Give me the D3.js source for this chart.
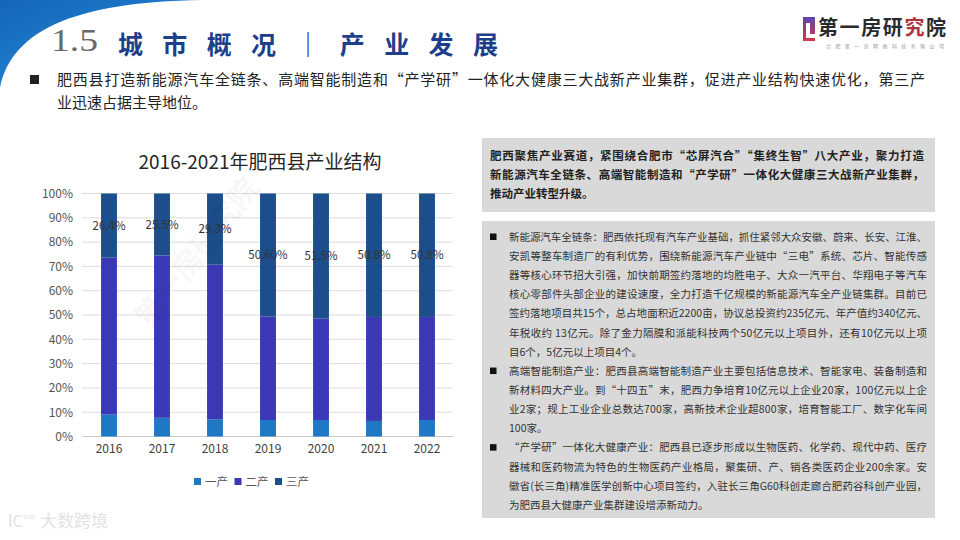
<!DOCTYPE html>
<html>
<head>
<meta charset="utf-8">
<script src="https://cdn.jsdelivr.net/npm/d3@7"></script>
<style>
  body { margin: 0; background: #fff; }
  svg { display: block; font-family: "Noto Sans CJK SC", "Noto Sans", sans-serif; }
</style>
</head>
<body>
<div id="slide"></div>
<script>
// 数据
var years = ["2016", "2017", "2018", "2019", "2020", "2021", "2022"];
var primary = [9.0, 7.7, 7.1, 6.8, 6.8, 6.4, 6.8];
var secondary = [64.6, 66.8, 63.6, 42.6, 41.7, 42.8, 42.4];
var tertiary = [26.4, 25.5, 29.3, 50.6, 51.5, 50.8, 50.8];
var tertiaryLabels = ["26.4%", "25.5%", "29.3%", "50.60%", "51.5%", "50.8%", "50.8%"];
var seriesNames = ["一产", "二产", "三产"];
var seriesColors = ["#1f78c3", "#3b38b6", "#1c4e8b"];
var yTickValues = [0, 10, 20, 30, 40, 50, 60, 70, 80, 90, 100];

var chartTitle = "2016-2021年肥西县产业结构";
var headLine = ["肥西县打造新能源汽车全链条、高端智能制造和“产学研”一体化大健康三大战新产业集群，促进产业结构快速优化，第三产",
                "业迅速占据主导地位。"];
var boxTop = ["肥西聚焦产业赛道，紧围绕合肥市“芯屏汽合”“集终生智”八大产业，聚力打造",
              "新能源汽车全链条、高端智能制造和“产学研”一体化大健康三大战新产业集群，",
              "推动产业转型升级。"];
// [文字, 是否项目符号, 是否整行]
var boxLines = [
  ["新能源汽车全链条：肥西依托现有汽车产业基础，抓住紧邻大众安徽、蔚来、长安、江淮、", 1, 1],
  ["安凯等整车制造厂的有利优势，围绕新能源汽车产业链中“三电”系统、芯片、智能传感", 0, 1],
  ["器等核心环节招大引强，加快前期签约落地的均胜电子、大众一汽平台、华翔电子等汽车", 0, 1],
  ["核心零部件头部企业的建设速度，全力打造千亿规模的新能源汽车全产业链集群。目前已", 0, 1],
  ["签约落地项目共15个，总占地面积近2200亩，协议总投资约235亿元、年产值约340亿元、", 0, 1],
  ["年税收约 13亿元。除了金力隔膜和派能科技两个50亿元以上项目外，还有10亿元以上项", 0, 1],
  ["目6个，5亿元以上项目4个。", 0, 0],
  ["高端智能制造产业：肥西县高端智能制造产业主要包括信息技术、智能家电、装备制造和", 1, 1],
  ["新材料四大产业。到“十四五”末，肥西力争培育10亿元以上企业20家，100亿元以上企", 0, 1],
  ["业2家；规上工业企业总数达700家，高新技术企业超800家，培育智能工厂、数字化车间", 0, 1],
  ["100家。", 0, 0],
  ["“产学研”一体化大健康产业：肥西县已逐步形成以生物医药、化学药、现代中药、医疗", 1, 1],
  ["器械和医药物流为特色的生物医药产业格局，聚集研、产、销各类医药企业200余家。安", 0, 1],
  ["徽省(长三角)精准医学创新中心项目签约，入驻长三角G60科创走廊合肥药谷科创产业园，", 0, 1],
  ["为肥西县大健康产业集群建设增添新动力。", 0, 0]
];

var W = 960, H = 540;
var svg = d3.select("#slide").append("svg")
    .attr("width", W)
    .attr("height", H);

var defs = svg.append("defs");
var grad = defs.append("linearGradient")
    .attr("id", "cornerGrad")
    .attr("x1", "0").attr("y1", "0").attr("x2", "1").attr("y2", "1");
grad.append("stop").attr("offset", "0%").attr("stop-color", "#1565b8");
grad.append("stop").attr("offset", "60%").attr("stop-color", "#1f82d0");
grad.append("stop").attr("offset", "100%").attr("stop-color", "#7cc4ee");

var logoGrad = defs.append("linearGradient")
    .attr("id", "logoGrad")
    .attr("x1", "0").attr("y1", "0").attr("x2", "0").attr("y2", "1");
logoGrad.append("stop").attr("offset", "0%").attr("stop-color", "#5a45b0");
logoGrad.append("stop").attr("offset", "100%").attr("stop-color", "#d8344c");

// 左上角蓝色弧形
svg.append("path")
    .attr("d", "M0,0 L215,0 C80,0 12,28 0,88 Z")
    .attr("fill", "url(#cornerGrad)");

// 标题
svg.append("text")
    .attr("x", 51).attr("y", 51)
    .attr("textLength", 47)
    .attr("lengthAdjust", "spacingAndGlyphs")
    .style("font-family", "'Liberation Serif', serif")
    .style("font-size", "32px")
    .attr("fill", "#6a6a6a")
    .text("1.5");

svg.append("text")
    .attr("x", 118).attr("y", 54)
    .attr("textLength", 380)
    .attr("lengthAdjust", "spacing")
    .style("font-size", "25px")
    .style("font-weight", "bold")
    .attr("fill", "#1d3f8a")
    .text("城市概况｜产业发展");

// logo
svg.append("path")
    .attr("d", "M803,17 L815,17 L815,34 L810,34 L810,23 L806,23 L806,38 L815,38 L815,41 L803,41 Z")
    .attr("fill", "url(#logoGrad)");
var logoText = svg.append("text")
    .attr("x", 818).attr("y", 35)
    .attr("textLength", 128)
    .attr("lengthAdjust", "spacing")
    .style("font-size", "20px")
    .style("font-weight", "bold")
    .attr("fill", "#2a2a2a");
logoText.append("tspan").text("第一房研");
logoText.append("tspan").attr("fill", "#b2343f").text("究");
logoText.append("tspan").text("院");
svg.append("text")
    .attr("x", 826).attr("y", 48)
    .attr("textLength", 118)
    .attr("lengthAdjust", "spacing")
    .style("font-size", "5px")
    .attr("fill", "#999")
    .text("合肥第一房网络科技有限公司");

// 顶部说明
svg.append("rect")
    .attr("x", 30).attr("y", 75).attr("width", 9).attr("height", 9)
    .attr("fill", "#222");
svg.selectAll(".head-line")
    .data(headLine)
    .enter().append("text")
    .attr("class", "head-line")
    .attr("x", 57)
    .attr("y", function(d, i) { return 85 + i * 23; })
    .attr("textLength", function(d, i) { return i === 0 ? 868 : null; })
    .attr("lengthAdjust", "spacing")
    .style("font-size", "15px")
    .attr("fill", "#222")
    .text(function(d) { return d; });

// 图表
var x = d3.scaleBand()
    .domain(years)
    .range([82.5, 453.5])
    .paddingInner(0.7)
    .paddingOuter(0.35);
var y = d3.scaleLinear()
    .domain([0, 100])
    .range([436.5, 193.5]);

var chart = svg.append("g").attr("class", "chart");

chart.append("g")
    .attr("class", "grid")
    .selectAll("line")
    .data(yTickValues)
    .enter().append("line")
    .attr("x1", 82).attr("x2", 453)
    .attr("y1", function(d) { return y(d); })
    .attr("y2", function(d) { return y(d); })
    .attr("stroke", function(d) { return d === 0 ? "#c8c8c8" : "#dcdcdc"; })
    .attr("stroke-width", 1);

var table = years.map(function(yr, i) {
    return { year: yr, "一产": primary[i], "二产": secondary[i], "三产": tertiary[i] };
});
var stacked = d3.stack().keys(seriesNames)(table);

chart.selectAll(".series")
    .data(stacked)
    .enter().append("g")
    .attr("class", "series")
    .attr("fill", function(d, i) { return seriesColors[i]; })
    .selectAll("rect")
    .data(function(d) { return d; })
    .enter().append("rect")
    .attr("x", function(d) { return x(d.data.year); })
    .attr("width", x.bandwidth())
    .attr("y", function(d) { return y(d[1]); })
    .attr("height", function(d) { return y(d[0]) - y(d[1]); });

// 三产数据标签
chart.selectAll(".bar-label")
    .data(stacked[2])
    .enter().append("text")
    .attr("class", "bar-label")
    .attr("x", function(d) { return x(d.data.year) + x.bandwidth() / 2; })
    .attr("y", function(d) { return (y(d[0]) + y(d[1])) / 2; })
    .attr("dy", "0.35em")
    .attr("text-anchor", "middle")
    .style("font-size", "11.5px")
    .attr("fill", "#333")
    .text(function(d, i) { return tertiaryLabels[i]; });

// y 轴
chart.append("g")
    .attr("class", "y axis")
    .attr("transform", "translate(82,0)")
    .call(d3.axisLeft(y).tickValues(yTickValues).tickSize(0).tickPadding(9)
        .tickFormat(function(d) { return d + "%"; }))
    .call(function(g) { g.select(".domain").remove(); })
    .selectAll("text")
    .style("font-family", "'Noto Sans CJK SC', sans-serif")
    .style("font-size", "12px")
    .attr("fill", "#555");

// x 轴
chart.append("g")
    .attr("class", "x axis")
    .attr("transform", "translate(0,436.5)")
    .call(d3.axisBottom(x).tickSize(0).tickPadding(8))
    .call(function(g) { g.select(".domain").remove(); })
    .selectAll("text")
    .style("font-family", "'Noto Sans CJK SC', sans-serif")
    .style("font-size", "12px")
    .attr("fill", "#404040");

chart.append("text")
    .attr("x", 260).attr("y", 169)
    .attr("text-anchor", "middle")
    .style("font-size", "19px")
    .attr("fill", "#262626")
    .text(chartTitle);

// 图例
var legend = chart.selectAll(".legend")
    .data(seriesNames)
    .enter().append("g")
    .attr("class", "legend")
    .attr("transform", function(d, i) { return "translate(" + (194 + i * 40.5) + ",478)"; });
legend.append("rect")
    .attr("width", 7).attr("height", 7)
    .attr("fill", function(d, i) { return seriesColors[i]; });
legend.append("text")
    .attr("x", 11).attr("y", 3.5).attr("dy", "0.35em")
    .style("font-size", "11.5px")
    .attr("fill", "#595959")
    .text(function(d) { return d; });

// 右侧文字框
svg.append("rect")
    .attr("x", 482).attr("y", 138).attr("width", 453).attr("height", 74)
    .attr("fill", "#d9d9d9");
svg.selectAll(".box-top")
    .data(boxTop)
    .enter().append("text")
    .attr("class", "box-top")
    .attr("x", 490)
    .attr("y", function(d, i) { return 159.5 + i * 19; })
    .attr("textLength", function(d, i) { return i < 2 ? 434 : null; })
    .attr("lengthAdjust", "spacing")
    .style("font-size", "11.5px")
    .style("font-weight", "bold")
    .attr("fill", "#222")
    .text(function(d) { return d; });

svg.append("rect")
    .attr("x", 482).attr("y", 221).attr("width", 453).attr("height", 297)
    .attr("fill", "#d9d9d9");
var lineG = svg.selectAll(".box-line")
    .data(boxLines)
    .enter().append("g")
    .attr("class", "box-line")
    .attr("transform", function(d, i) { return "translate(0," + (237 + i * 19.15) + ")"; });
lineG.filter(function(d) { return d[1] === 1; })
    .append("rect")
    .attr("x", 490).attr("y", -3.5).attr("width", 6.5).attr("height", 6.5)
    .attr("fill", "#111");
lineG.append("text")
    .attr("x", 509)
    .attr("dy", "0.36em")
    .attr("textLength", function(d) { return d[2] === 1 ? 418 : null; })
    .attr("lengthAdjust", "spacing")
    .style("font-size", "10.5px")
    .attr("fill", "#333")
    .text(function(d) { return d[0]; });

// 水印
svg.append("text")
    .attr("transform", "translate(150,330) rotate(-52)")
    .style("font-size", "30px")
    .style("font-weight", "bold")
    .attr("fill", "#000")
    .attr("fill-opacity", 0.05)
    .text("第一房研究院");
svg.append("text")
    .attr("x", 40).attr("y", 527)
    .style("font-size", "17px")
    .attr("fill", "#e2e2e2")
    .text("大数跨境");
svg.append("text")
    .attr("x", 8).attr("y", 527)
    .style("font-size", "16px")
    .attr("fill", "#e2e2e2")
    .text("lC°°");
</script>
</body>
</html>
